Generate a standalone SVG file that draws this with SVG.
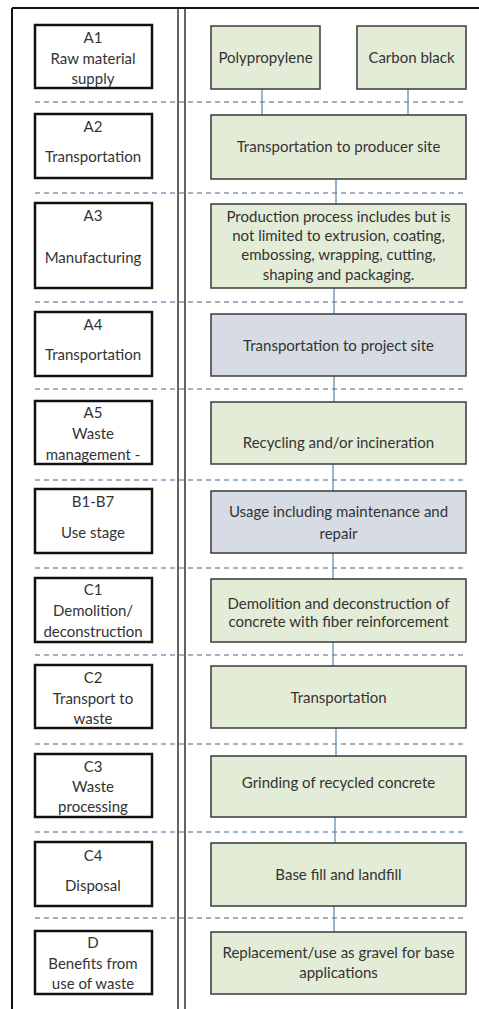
<svg xmlns="http://www.w3.org/2000/svg" width="479" height="1009" viewBox="0 0 479 1009">
  <style>
    text { font-family: Lato, "Liberation Sans", sans-serif; font-size: 15px; fill: #333333; text-anchor: middle; }
    .stage { fill: #ffffff; stroke: #111111; stroke-width: 2.5; }
    .step { fill: #e3ecd7; stroke: #3a3a3a; stroke-width: 1.5; }
    .step-alt { fill: #d6dbe4; stroke: #3a3a3a; stroke-width: 1.5; }
    .sep { stroke: #8199b6; stroke-width: 1.5; stroke-dasharray: 5 4; fill: none; }
    .link { stroke: #5d80a8; stroke-width: 1.2; fill: none; }
    .frame { stroke: #111111; fill: none; }
  </style>
  <rect width="479" height="1009" fill="#ffffff"/>

  <!-- outer frame and column divider -->
  <g id="frame">
    <line class="frame" x1="12" y1="8" x2="479" y2="8" stroke-width="2"/>
    <line class="frame" x1="12" y1="8" x2="12" y2="1009" stroke-width="2"/>
    <line class="frame" x1="178" y1="8" x2="178" y2="1009" stroke-width="1.3"/>
    <line class="frame" x1="185" y1="8" x2="185" y2="1009" stroke-width="1.3"/>
  </g>

  <!-- stage separators -->
  <g id="separators">
    <line class="sep" x1="35" y1="102" x2="467" y2="102"/>
    <line class="sep" x1="35" y1="193" x2="467" y2="193"/>
    <line class="sep" x1="35" y1="302" x2="467" y2="302"/>
    <line class="sep" x1="35" y1="389" x2="467" y2="389"/>
    <line class="sep" x1="35" y1="480" x2="467" y2="480"/>
    <line class="sep" x1="35" y1="568" x2="467" y2="568"/>
    <line class="sep" x1="35" y1="655" x2="467" y2="655"/>
    <line class="sep" x1="35" y1="744" x2="467" y2="744"/>
    <line class="sep" x1="35" y1="832" x2="467" y2="832"/>
    <line class="sep" x1="35" y1="918" x2="467" y2="918"/>
  </g>

  <!-- connectors -->
  <g id="connectors">
    <line class="link" x1="262" y1="89" x2="262" y2="115"/>
    <line class="link" x1="408" y1="89" x2="408" y2="115"/>
    <line class="link" x1="336" y1="179" x2="336" y2="204"/>
    <line class="link" x1="334" y1="288" x2="334" y2="314"/>
    <line class="link" x1="334" y1="376" x2="334" y2="402"/>
    <line class="link" x1="333" y1="464" x2="333" y2="491"/>
    <line class="link" x1="333" y1="553" x2="333" y2="579"/>
    <line class="link" x1="333" y1="642" x2="333" y2="666"/>
    <line class="link" x1="336" y1="728" x2="336" y2="756"/>
    <line class="link" x1="335" y1="817" x2="335" y2="843"/>
    <line class="link" x1="334" y1="906" x2="334" y2="932"/>
  </g>

  <!-- stage labels (left column) -->
  <g id="stage-a1">
    <rect class="stage" x="35" y="25" width="117" height="63"/>
    <text x="93" y="43">A1</text>
    <text x="93" y="64">Raw material</text>
    <text x="93" y="84">supply</text>
  </g>
  <g id="stage-a2">
    <rect class="stage" x="35" y="114" width="117" height="64"/>
    <text x="93" y="132">A2</text>
    <text x="93" y="162">Transportation</text>
  </g>
  <g id="stage-a3">
    <rect class="stage" x="35" y="203" width="117" height="85"/>
    <text x="93" y="221">A3</text>
    <text x="93" y="263">Manufacturing</text>
  </g>
  <g id="stage-a4">
    <rect class="stage" x="35" y="312" width="117" height="64"/>
    <text x="93" y="330">A4</text>
    <text x="93" y="360">Transportation</text>
  </g>
  <g id="stage-a5">
    <rect class="stage" x="35" y="401" width="117" height="63"/>
    <text x="93" y="418">A5</text>
    <text x="93" y="439">Waste</text>
    <text x="93" y="460">management -</text>
  </g>
  <g id="stage-b">
    <rect class="stage" x="35" y="489" width="117" height="64"/>
    <text x="93" y="507">B1-B7</text>
    <text x="93" y="538">Use stage</text>
  </g>
  <g id="stage-c1">
    <rect class="stage" x="35" y="578" width="117" height="64"/>
    <text x="93" y="595">C1</text>
    <text x="93" y="616">Demolition/</text>
    <text x="93" y="637">deconstruction</text>
  </g>
  <g id="stage-c2">
    <rect class="stage" x="35" y="665" width="117" height="63"/>
    <text x="93" y="683">C2</text>
    <text x="93" y="704">Transport to</text>
    <text x="93" y="724">waste</text>
  </g>
  <g id="stage-c3">
    <rect class="stage" x="35" y="754" width="117" height="63"/>
    <text x="93" y="772">C3</text>
    <text x="93" y="792">Waste</text>
    <text x="93" y="812">processing</text>
  </g>
  <g id="stage-c4">
    <rect class="stage" x="35" y="842" width="117" height="64"/>
    <text x="93" y="861">C4</text>
    <text x="93" y="891">Disposal</text>
  </g>
  <g id="stage-d">
    <rect class="stage" x="35" y="931" width="117" height="63"/>
    <text x="93" y="948">D</text>
    <text x="93" y="969">Benefits from</text>
    <text x="93" y="989">use of waste</text>
  </g>

  <!-- process steps (right column) -->
  <g id="step-polypropylene">
    <rect class="step" x="211" y="26" width="109" height="63"/>
    <text x="265.5" y="63">Polypropylene</text>
  </g>
  <g id="step-carbon-black">
    <rect class="step" x="357" y="26" width="109" height="63"/>
    <text x="411.5" y="63">Carbon black</text>
  </g>
  <g id="step-transport-producer">
    <rect class="step" x="211" y="115" width="255" height="64"/>
    <text x="338.5" y="152">Transportation to producer site</text>
  </g>
  <g id="step-production">
    <rect class="step" x="211" y="204" width="255" height="84"/>
    <text x="338.5" y="222">Production process includes but is</text>
    <text x="338.5" y="241">not limited to extrusion, coating,</text>
    <text x="338.5" y="260">embossing, wrapping, cutting,</text>
    <text x="338.5" y="280">shaping and packaging.</text>
  </g>
  <g id="step-transport-project">
    <rect class="step-alt" x="211" y="314" width="255" height="62"/>
    <text x="338.5" y="351">Transportation to project site</text>
  </g>
  <g id="step-recycling">
    <rect class="step" x="211" y="402" width="255" height="62"/>
    <text x="338.5" y="448">Recycling and/or incineration</text>
  </g>
  <g id="step-usage">
    <rect class="step-alt" x="211" y="491" width="255" height="62"/>
    <text x="338.5" y="517">Usage including maintenance and</text>
    <text x="338.5" y="539">repair</text>
  </g>
  <g id="step-demolition">
    <rect class="step" x="211" y="579" width="255" height="63"/>
    <text x="338.5" y="609">Demolition and deconstruction of</text>
    <text x="338.5" y="627">concrete with fiber reinforcement</text>
  </g>
  <g id="step-transportation">
    <rect class="step" x="211" y="666" width="255" height="62"/>
    <text x="338.5" y="703">Transportation</text>
  </g>
  <g id="step-grinding">
    <rect class="step" x="211" y="756" width="255" height="61"/>
    <text x="338.5" y="788">Grinding of recycled concrete</text>
  </g>
  <g id="step-base-fill">
    <rect class="step" x="211" y="843" width="255" height="63"/>
    <text x="338.5" y="880">Base fill and landfill</text>
  </g>
  <g id="step-replacement">
    <rect class="step" x="211" y="932" width="255" height="62"/>
    <text x="338.5" y="958">Replacement/use as gravel for base</text>
    <text x="338.5" y="978">applications</text>
  </g>
</svg>
